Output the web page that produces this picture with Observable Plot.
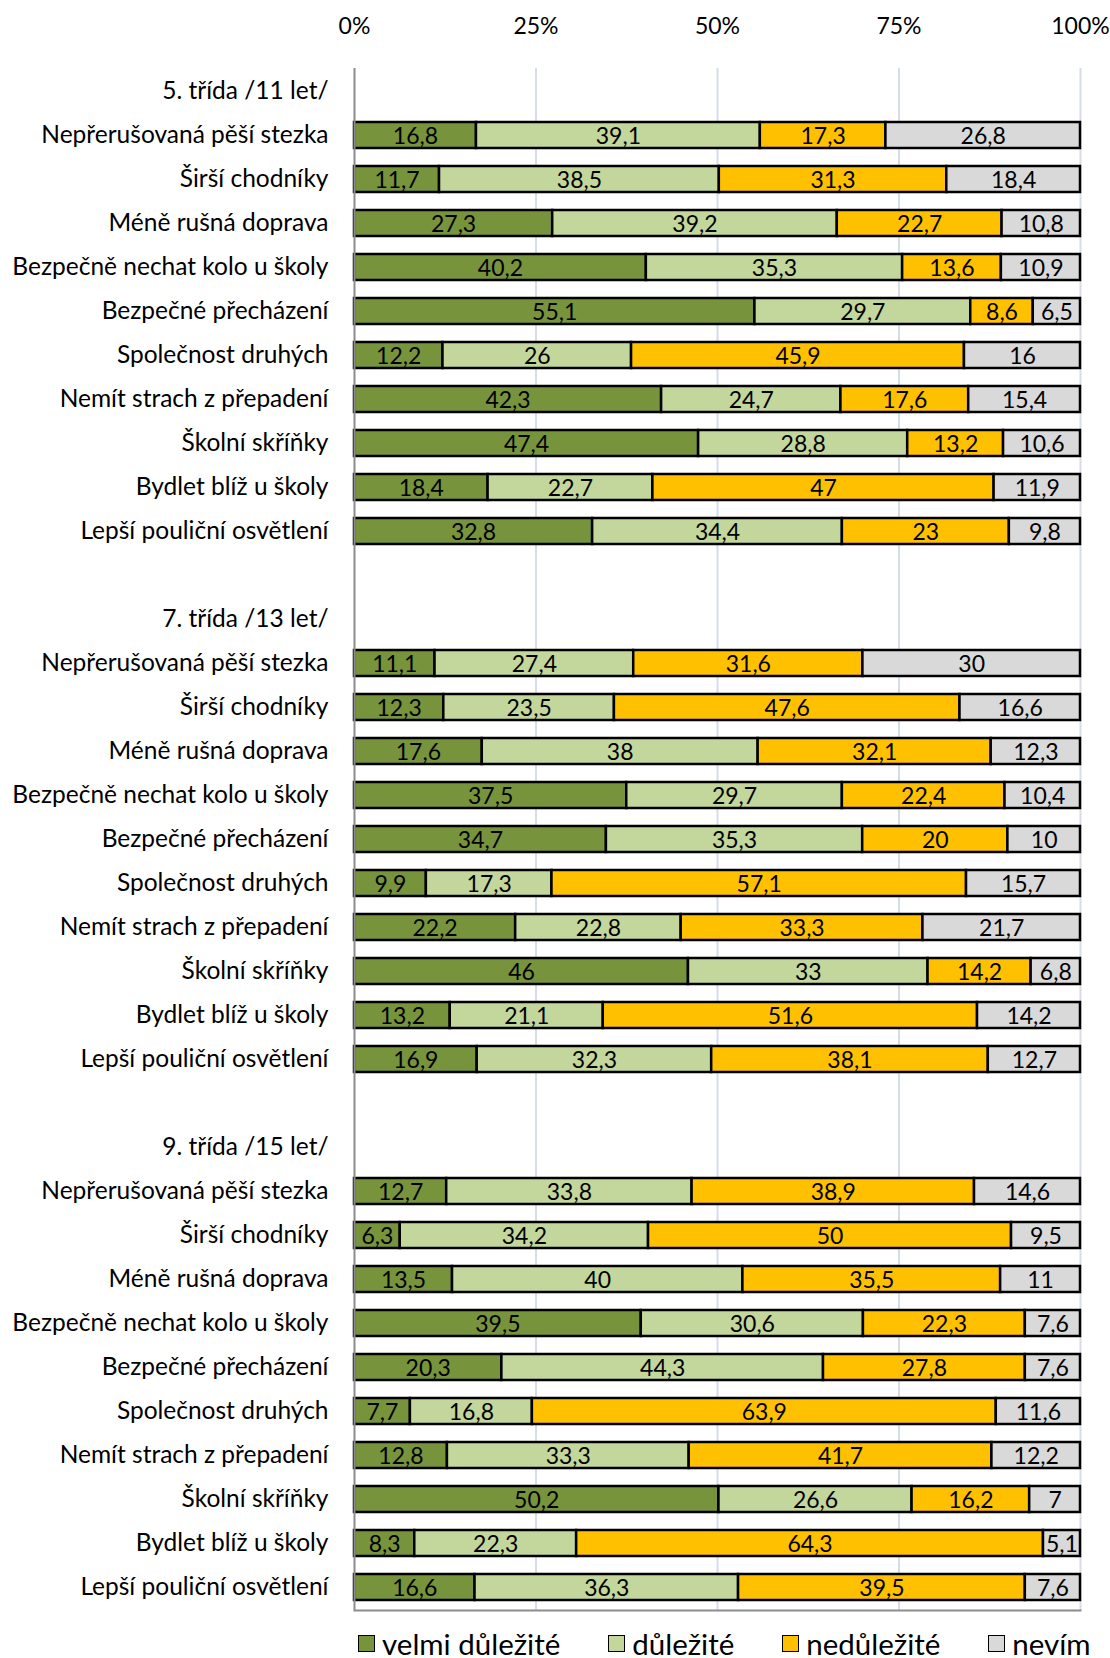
<!DOCTYPE html>
<html lang="cs">
<head>
<meta charset="utf-8">
<script src="https://cdn.jsdelivr.net/npm/d3@7"></script>
<script src="https://cdn.jsdelivr.net/npm/@observablehq/plot@0.6"></script>
<style>
  html, body { margin: 0; padding: 0; background: #fff; }
  body { width: 1110px; font-family: Lato, "Open Sans", sans-serif; color: #000; }
  #legend { position: relative; height: 40px; margin-top: 5px; display: flex; align-items: center; gap: 48px; padding-left: 358px; font-size: 29.5px; }
  .item { display: flex; align-items: center; gap: 7px; }
  .sw { width: 17px; height: 17px; border: 1.5px solid #000; box-sizing: border-box; }
</style>
</head>
<body>
<div id="chart"></div>
<div id="legend"></div>
<script>
// Age groups (grades) and the surveyed items
const groups = ["5. třída /11 let/", "7. třída /13 let/", "9. třída /15 let/"];
const items = [
  "Nepřerušovaná pěší stezka",
  "Širší chodníky",
  "Méně rušná doprava",
  "Bezpečně nechat kolo u školy",
  "Bezpečné přecházení",
  "Společnost druhých",
  "Nemít strach z přepadení",
  "Školní skříňky",
  "Bydlet blíž u školy",
  "Lepší pouliční osvětlení"
];
const answers = ["velmi důležité", "důležité", "nedůležité", "nevím"];
const answerColors = ["#77933c", "#c3d69b", "#ffc000", "#d9d9d9"];
const xTicks = [0, 0.25, 0.5, 0.75, 1];

// Shares (%) per item: [velmi důležité, důležité, nedůležité, nevím]
const grade5 = [
  [16.8, 39.1, 17.3, 26.8],
  [11.7, 38.5, 31.3, 18.4],
  [27.3, 39.2, 22.7, 10.8],
  [40.2, 35.3, 13.6, 10.9],
  [55.1, 29.7, 8.6, 6.5],
  [12.2, 26, 45.9, 16],
  [42.3, 24.7, 17.6, 15.4],
  [47.4, 28.8, 13.2, 10.6],
  [18.4, 22.7, 47, 11.9],
  [32.8, 34.4, 23, 9.8]
];
const grade7 = [
  [11.1, 27.4, 31.6, 30],
  [12.3, 23.5, 47.6, 16.6],
  [17.6, 38, 32.1, 12.3],
  [37.5, 29.7, 22.4, 10.4],
  [34.7, 35.3, 20, 10],
  [9.9, 17.3, 57.1, 15.7],
  [22.2, 22.8, 33.3, 21.7],
  [46, 33, 14.2, 6.8],
  [13.2, 21.1, 51.6, 14.2],
  [16.9, 32.3, 38.1, 12.7]
];
const grade9 = [
  [12.7, 33.8, 38.9, 14.6],
  [6.3, 34.2, 50, 9.5],
  [13.5, 40, 35.5, 11],
  [39.5, 30.6, 22.3, 7.6],
  [20.3, 44.3, 27.8, 7.6],
  [7.7, 16.8, 63.9, 11.6],
  [12.8, 33.3, 41.7, 12.2],
  [50.2, 26.6, 16.2, 7],
  [8.3, 22.3, 64.3, 5.1],
  [16.6, 36.3, 39.5, 7.6]
];
const groupValues = [grade5, grade7, grade9];

// Row layout: header row per group, its items, and a blank spacer between groups
const rows = [];
groups.forEach((g, gi) => {
  if (gi > 0) rows.push({id: `gap-${gi}`, label: ""});
  rows.push({id: `head-${gi}`, label: g});
  items.forEach((it) => rows.push({id: `${gi}|${it}`, label: it}));
});
const labelById = new Map(rows.map((r) => [r.id, r.label]));

const data = [];
groupValues.forEach((vals, gi) => {
  vals.forEach((row, ii) => {
    row.forEach((v, ai) => {
      data.push({row: `${gi}|${items[ii]}`, answer: answers[ai], value: v});
    });
  });
});

const fmt = (v) => String(v).replace(".", ",");

const chart = Plot.plot({
  width: 1110,
  height: 1618,
  marginTop: 68,
  marginBottom: 8,
  marginLeft: 354,
  marginRight: 30,
  style: {fontFamily: "Lato, 'Open Sans', sans-serif", fontSize: "23px", color: "#000", background: "#fff"},
  x: {domain: [0, 1], label: null},
  y: {domain: rows.map((r) => r.id), paddingInner: 0.4, paddingOuter: 0.2, label: null},
  color: {domain: answers, range: answerColors},
  marks: [
    Plot.ruleX(xTicks.slice(1), {stroke: "#d6dce8", strokeWidth: 2}),
    Plot.barX(data, Plot.stackX({
      offset: "normalize", x: "value", y: "row", fill: "answer",
      stroke: "#000", strokeWidth: 2.5
    })),
    Plot.text(data, Plot.stackX({
      offset: "normalize", x: "value", y: "row", z: "answer",
      text: (d) => fmt(d.value), fontSize: 23, dy: 1, fill: "#000"
    })),
    Plot.ruleX([0], {stroke: "#8c8c8c", strokeWidth: 2}),
    Plot.frame({anchor: "bottom", stroke: "#8c8c8c", strokeWidth: 2}),
    Plot.axisX({
      anchor: "top", ticks: xTicks, tickFormat: d3.format(".0%"),
      tickSize: 0, tickPadding: 35, fontSize: 23, label: null
    }),
    Plot.axisY({
      tickSize: 0, tickPadding: 26, tickFormat: (id) => labelById.get(id), fontSize: 24.5, label: null
    })
  ]
});
document.getElementById("chart").appendChild(chart);

// Legend below the chart
const legend = document.getElementById("legend");
answers.forEach((a, i) => {
  const item = document.createElement("div");
  item.className = "item";
  const sw = document.createElement("span");
  sw.className = "sw";
  sw.style.background = answerColors[i];
  const t = document.createElement("span");
  t.textContent = a;
  item.append(sw, t);
  legend.appendChild(item);
});
</script>
</body>
</html>
